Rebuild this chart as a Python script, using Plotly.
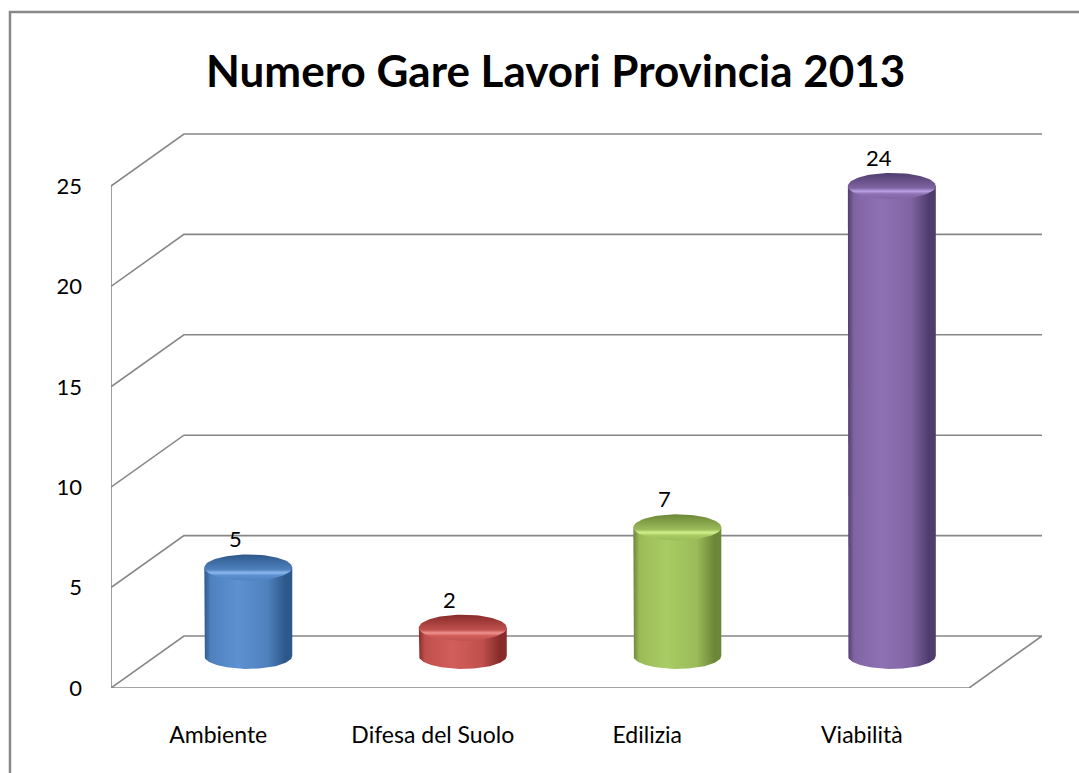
import numpy as np
import plotly.graph_objects as go

# ---- data ----
categories = ["Ambiente", "Difesa del Suolo", "Edilizia", "Viabilità"]
values = [5, 2, 7, 24]
y_ticks = [0, 5, 10, 15, 20, 25]
title_text = "Numero Gare Lavori Provincia 2013"

# colours per bar: (edge dark, base, lighter, cap highlight)
bar_colors = [
    ("#2d588c", "#4f81bd", "#5c91d2", "#8cb8ee"),
    ("#872c2a", "#c0504d", "#d25e5a", "#ee9490"),
    ("#6c8738", "#9bbb59", "#a9cc63", "#d2ef8e"),
    ("#503d6e", "#8064a2", "#8e71b4", "#bba2e6"),
]

# ---- 3D-ish geometry (in axis units) ----
DX = 0.34     # depth offset along x
DY = 2.59     # depth offset along y
BX = 0.14     # bar centre shift for depth
BY = 1.6      # bar base shift for depth
RX = 0.205    # cylinder radius along x
RY = 0.65     # ellipse half-height along y
BEVEL = 0.6   # rounded top loses a little height

X0, X1 = -0.5, len(categories) - 0.5
GRID = "#878787"
FONT = "Lato"

fig = go.Figure()

# walls & floor
for v in y_ticks:
    xs = [X0, X0 + DX, X1 + DX]
    ys = [v, v + DY, v + DY]
    if v == 0:
        xs += [X1, X0]
        ys += [0, 0]
    fig.add_trace(go.Scatter(x=xs, y=ys, mode="lines",
                             line=dict(color=GRID, width=1.6),
                             hoverinfo="skip", showlegend=False))
fig.add_trace(go.Scatter(x=[X0, X0], y=[0, max(y_ticks)], mode="lines",
                         line=dict(color=GRID, width=1.6),
                         hoverinfo="skip", showlegend=False))

# cylinders
for i, (cat, v) in enumerate(zip(categories, values)):
    dark, base, light, hi = bar_colors[i]
    xc = i + BX
    bot = BY
    top = v + BY - BEVEL
    t = np.linspace(np.pi, 2 * np.pi, 60)
    bx = [xc - RX, xc - RX] + list(xc + RX * np.cos(t)) + [xc + RX, xc - RX]
    by = [top, bot] + list(bot + RY * np.sin(t)) + [top, top]
    fig.add_trace(go.Scatter(
        x=bx, y=by, mode="lines", fill="toself",
        line=dict(width=0, color="rgba(0,0,0,0)"),
        fillgradient=dict(type="horizontal",
                          colorscale=[[0, dark], [0.07, base], [0.38, light],
                                      [0.72, base], [0.92, dark], [1, dark]]),
        hoverinfo="skip", showlegend=False))
    ta = np.linspace(0, 2 * np.pi, 90)
    fig.add_trace(go.Scatter(
        x=list(xc + RX * np.cos(ta)), y=list(top + RY * np.sin(ta)),
        mode="lines", fill="toself",
        line=dict(width=0, color="rgba(0,0,0,0)"),
        fillgradient=dict(type="vertical",
                          colorscale=[[0, base], [0.2, light], [0.3, hi],
                                      [0.42, base], [1, dark]]),
        hoverinfo="skip", showlegend=False))
    fig.add_annotation(x=xc - 0.06, y=top + RY, text=str(v), showarrow=False,
                       yanchor="bottom", yshift=0,
                       font=dict(family=FONT, size=22, color="#000"))

# chart border (top & left visible)
fig.add_shape(type="rect", xref="paper", yref="paper",
              x0=-0.1085, x1=1.3, y0=-0.4, y1=1.2158,
              line=dict(color="#888888", width=2.5), layer="below")

fig.update_layout(
    width=1079, height=773,
    margin=dict(l=111, r=37, t=132, b=85),
    paper_bgcolor="white", plot_bgcolor="white",
    title=dict(text="<b>" + title_text + "</b>", x=0.515, xanchor="center",
               y=0.907, yanchor="middle",
               font=dict(family=FONT, size=44, color="#000")),
    xaxis=dict(range=[X0, X1 + DX], showgrid=False, zeroline=False,
               showline=False, tickmode="array",
               tickvals=list(range(len(categories))), ticktext=categories,
               ticks="", ticklabelstandoff=31,
               tickfont=dict(family=FONT, size=23, color="#000"),
               fixedrange=True),
    yaxis=dict(range=[0, 27.69], showgrid=False, zeroline=False,
               showline=False, tickmode="array", tickvals=y_ticks,
               ticks="", ticklabelstandoff=28,
               tickfont=dict(family=FONT, size=22, color="#000"),
               fixedrange=True),
    showlegend=False,
)

fig.write_html("out.html")
